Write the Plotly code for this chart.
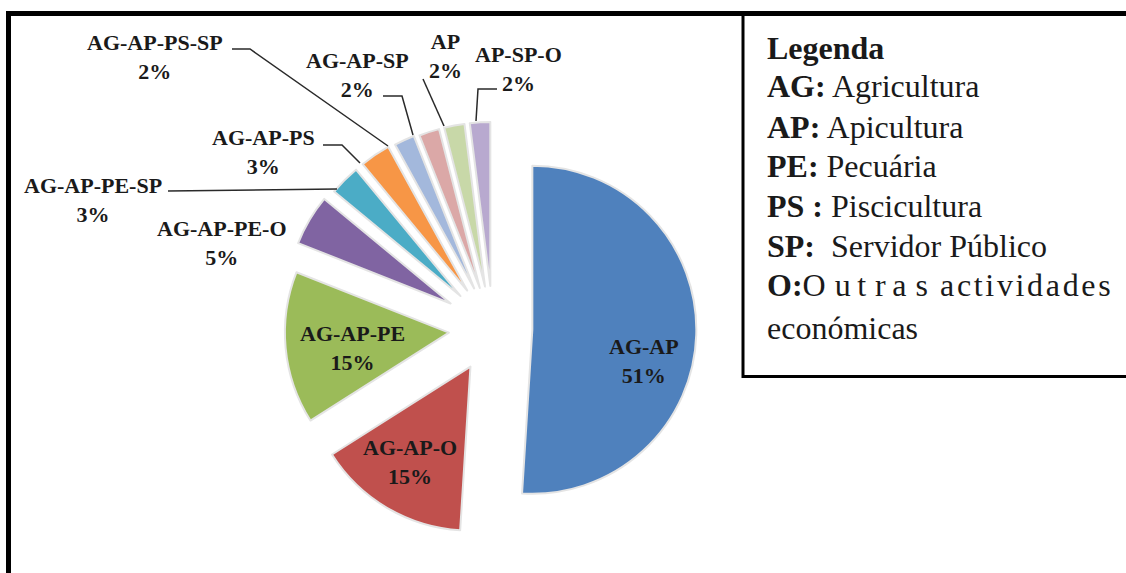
import plotly.graph_objects as go

# Income-activity combinations and their share of households (%)
categories = ["AG-AP", "AG-AP-O", "AG-AP-PE", "AG-AP-PE-O", "AG-AP-PE-SP",
              "AG-AP-PS", "AG-AP-PS-SP", "AG-AP-SP", "AP", "AP-SP-O"]
shares = [51, 15, 15, 5, 3, 3, 2, 2, 2, 2]

legend_abbr = ["AG:", "AP:", "PE:", "PS :", "SP:"]
legend_desc = ["Agricultura", "Apicultura", "Pecuária", "Piscicultura", "\u00a0Servidor Público"]

colors = ["#4F81BD", "#C0504D", "#9BBB59", "#8064A2", "#4BACC6",
          "#F79646", "#A3B8DC", "#DBA8A7", "#C8D8A8", "#B8A9CF"]
pulls = [0.24, 0.27, 0.27, 0.30, 0.28, 0.28, 0.27, 0.26, 0.26, 0.26]

W, H = 1126, 573


def px(x):
    return x / W


def py(y):
    return 1 - y / H


# pie placement: centre and box size in pixels
cx, cy, box = 493, 328.5, 164 * 2 * (1 + max(pulls))
dom_x = [px(cx - 225), px(cx + 225)]
dom_y = [py(cy + box / 2), py(cy - box / 2)]

fig = go.Figure(go.Pie(
    labels=categories, values=shares, sort=False, direction="clockwise",
    rotation=0, pull=pulls, textinfo="none", hoverinfo="skip",
    marker=dict(colors=colors, line=dict(color="#e4e4e4", width=2)),
    domain=dict(x=dom_x, y=dom_y), showlegend=False,
))

serif = "'Liberation Serif', 'Times New Roman', serif"
label_font = dict(family=serif, size=22, color="#1a1a1a")

# label block centres (pixels)
label_pos = {
    "AG-AP": (644, 360.5),
    "AG-AP-O": (410, 462),
    "AG-AP-PE": (352, 347.5),
    "AG-AP-PE-O": (222, 243),
    "AG-AP-PE-SP": (93, 199.5),
    "AG-AP-PS": (263, 152),
    "AG-AP-PS-SP": (155, 57),
    "AG-AP-SP": (358, 75.5),
    "AP": (445, 56),
    "AP-SP-O": (518, 69),
}

annotations = []
for name, val in zip(categories, shares):
    x, y = label_pos[name]
    annotations.append(dict(
        x=px(x), y=py(y), xref="paper", yref="paper", xanchor="center", yanchor="middle",
        text=f"<b>{name}<br>{val}%</b>", showarrow=False, font=label_font, align="center",
    ))

# leader lines from outside labels to their slices (pixels)
leaders = [
    [(232, 49), (250, 49), (388, 146)],
    [(383, 96), (402, 96), (413, 135)],
    [(423, 79), (444, 126)],
    [(497, 89), (478, 89), (476, 121)],
    [(323, 145), (342, 145), (360, 163)],
    [(168, 191), (337, 189)],
]

shapes = []
for pts in leaders:
    path = "M " + " L ".join(f"{px(x)},{py(y)}" for x, y in pts)
    shapes.append(dict(type="path", xref="paper", yref="paper", path=path,
                       line=dict(color="#2a2a2a", width=1.5)))

# outer frame and legend box
shapes.append(dict(type="path", xref="paper", yref="paper",
                   path=f"M {px(8.5)},{py(H + 10)} L {px(8.5)},{py(13.5)} L {px(W + 10)},{py(13.5)}",
                   line=dict(color="black", width=5)))
shapes.append(dict(type="rect", xref="paper", yref="paper",
                   x0=px(743), y0=py(376.5), x1=px(W + 10), y1=py(14),
                   line=dict(color="black", width=3)))

legend_font = dict(family=serif, size=32, color="#1a1a1a")
legend_x = px(765)
legend_rows = [48, 86, 127, 166, 206, 246, 285, 328]


def spaced(word, gaps):
    out = word[0]
    for i, ch in enumerate(word[1:]):
        out += gaps[i % len(gaps)] + ch
    return out


annotations.append(dict(x=legend_x, y=py(legend_rows[0]), xref="paper", yref="paper",
                        xanchor="left", yanchor="middle", text="<b>Legenda</b>",
                        showarrow=False, font=legend_font))
for i, (ab, desc) in enumerate(zip(legend_abbr, legend_desc)):
    annotations.append(dict(x=legend_x, y=py(legend_rows[i + 1]), xref="paper", yref="paper",
                            xanchor="left", yanchor="middle", text=f"<b>{ab}</b> {desc}",
                            showarrow=False, font=legend_font))
# justified line: letter-spaced words pushed to both edges of the box
annotations.append(dict(x=legend_x, y=py(legend_rows[6]), xref="paper", yref="paper",
                        xanchor="left", yanchor="middle",
                        text="<b>O:</b>" + spaced("Outras", ["\u2009\u200a", "\u2009"]),
                        showarrow=False, font=legend_font))
annotations.append(dict(x=px(1113), y=py(legend_rows[6]), xref="paper", yref="paper",
                        xanchor="right", yanchor="middle",
                        text=spaced("actividades", ["\u200a"]),
                        showarrow=False, font=legend_font))
annotations.append(dict(x=legend_x, y=py(legend_rows[7]), xref="paper", yref="paper",
                        xanchor="left", yanchor="middle", text="económicas",
                        showarrow=False, font=legend_font))

fig.update_layout(
    width=W, height=H, margin=dict(l=0, r=0, t=0, b=0),
    paper_bgcolor="white", plot_bgcolor="white",
    annotations=annotations, shapes=shapes,
)

fig.write_html("out.html")
